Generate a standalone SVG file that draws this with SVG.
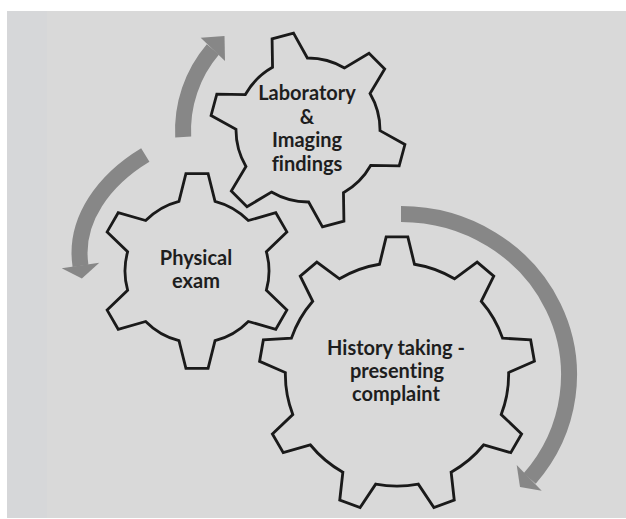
<svg xmlns="http://www.w3.org/2000/svg" width="626" height="519" viewBox="0 0 626 519">
  <style>
    .gear { fill: none; stroke: #1a1a1a; stroke-width: 2.8; stroke-linejoin: miter; }
    .band { fill: none; stroke: #878787; stroke-width: 16; stroke-linecap: butt; }
    .head { fill: #878787; stroke: none; }
    .label { font-family: Lato, "Liberation Sans", sans-serif; font-weight: 700; font-size: 20px; fill: #1e1e1e; text-anchor: middle; font-variant-ligatures: none; }
  </style>
  <defs>
    <!-- six-tooth gear, outer radius 98, root radius 72, a tooth every 60 degrees from 0 -->
    <path id="gear6" d="M 69.71,-18.03 L 97.37,-11.09 L 97.37,11.09 L 69.71,18.03
      A 72 72 0 0 1 50.47,51.35 L 58.29,78.78 L 39.08,89.87 L 19.24,69.38
      A 72 72 0 0 1 -19.24,69.38 L -39.08,89.87 L -58.29,78.78 L -50.47,51.35
      A 72 72 0 0 1 -69.71,18.03 L -97.37,11.09 L -97.37,-11.09 L -69.71,-18.03
      A 72 72 0 0 1 -50.47,-51.35 L -58.29,-78.78 L -39.08,-89.87 L -19.24,-69.38
      A 72 72 0 0 1 19.24,-69.38 L 39.08,-89.87 L 58.29,-78.78 L 50.47,-51.35
      A 72 72 0 0 1 69.71,-18.03 Z"/>
    <!-- nine-tooth gear, outer radius 136, root radius 110, a tooth every 40 degrees from 0 -->
    <path id="gear9" d="M 108.65,-17.21 L 135.58,-10.67 L 135.58,10.67 L 108.65,17.21
      A 110 110 0 0 1 94.29,56.65 L 110.72,78.98 L 97.00,95.32 L 72.17,83.02
      A 110 110 0 0 1 35.81,104.01 L 34.05,131.67 L 13.04,135.37 L 1.92,109.98
      A 110 110 0 0 1 -39.42,102.69 L -58.55,122.75 L -77.03,112.08 L -69.23,85.49
      A 110 110 0 0 1 -96.21,53.33 L -123.75,56.40 L -131.05,36.34 L -107.98,20.99
      A 110 110 0 0 1 -107.98,-20.99 L -131.05,-36.34 L -123.75,-56.40 L -96.21,-53.33
      A 110 110 0 0 1 -69.23,-85.49 L -77.03,-112.08 L -58.55,-122.75 L -39.42,-102.69
      A 110 110 0 0 1 1.92,-109.98 L 13.04,-135.37 L 34.05,-131.67 L 35.81,-104.01
      A 110 110 0 0 1 72.17,-83.02 L 97.00,-95.32 L 110.72,-78.98 L 94.29,-56.65
      A 110 110 0 0 1 108.65,-17.21 Z"/>
  </defs>

  <!-- backdrop panel -->
  <rect x="0" y="0" width="626" height="519" fill="#ffffff"/>
  <rect x="7" y="11" width="619" height="507" fill="#d9d9d9"/>
  <rect x="7" y="11" width="40" height="507" fill="#d6d7d9"/>

  <!-- circular arrows -->
  <g id="connectors">
    <path class="band" d="M 183.2,137 A 125 125 0 0 1 212.9,49.4"/>
    <polygon class="head" points="200.7,37.7 224.5,36 225,61"/>

    <path class="band" d="M 145.3,155 C 105.2,179.2 73.6,219.2 80.5,265.8"/>
    <polygon class="head" points="61.7,268.3 99.3,262.7 81.9,278.5"/>

    <path class="band" d="M 401,214 A 168 161 0 0 1 529.7,478.5"/>
    <polygon class="head" points="516.7,465 541.7,490.7 520,487"/>
  </g>

  <g id="node-lab">
    <use href="#gear6" class="gear" transform="translate(308,130) rotate(15)"/>
    <text class="label" x="307" y="100">Laboratory</text>
    <text class="label" x="307" y="123.7">&amp;</text>
    <text class="label" x="307" y="147.3">Imaging</text>
    <text class="label" x="307" y="171">findings</text>
  </g>

  <g id="node-physical">
    <use href="#gear6" class="gear" transform="translate(197,271) rotate(30)"/>
    <text class="label" x="196" y="265">Physical</text>
    <text class="label" x="196" y="288">exam</text>
  </g>

  <g id="node-history">
    <use href="#gear9" class="gear" transform="translate(397,374.5) rotate(-10) scale(1.015)"/>
    <text class="label" x="396" y="355">History taking -</text>
    <text class="label" x="397" y="378">presenting</text>
    <text class="label" x="396" y="401">complaint</text>
  </g>
</svg>
